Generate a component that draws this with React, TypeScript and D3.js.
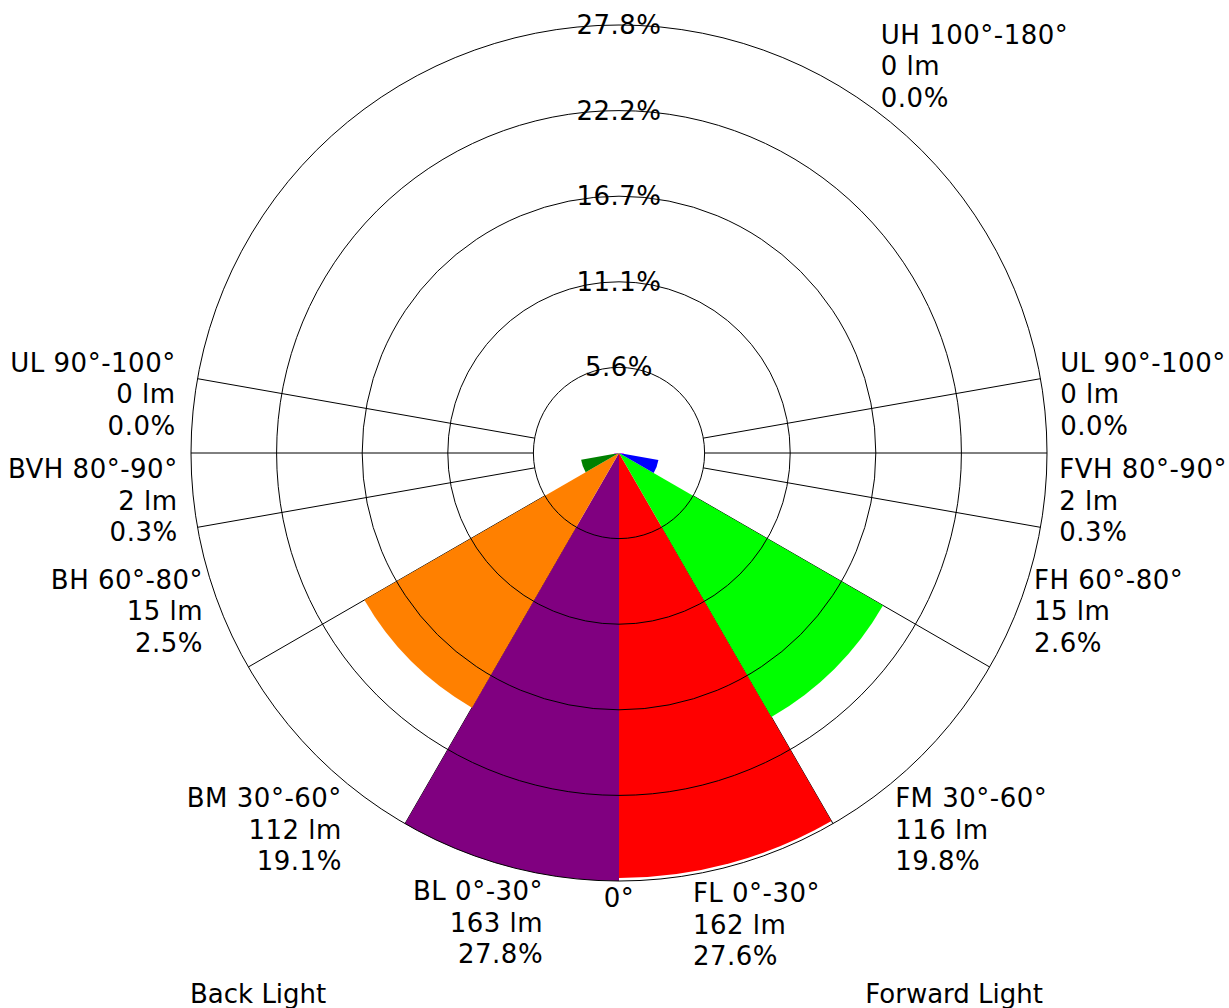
import React from "react";
import * as d3 from "d3";

// Forward side zones (right half)
const forwardNames = ["FL", "FM", "FH", "FVH", "UL", "UH"];
const forwardFrom = [0, 30, 60, 80, 90, 100];
const forwardTo = [30, 60, 80, 90, 100, 180];
const forwardLumens = [162, 116, 15, 2, 0, 0];
const forwardPercent = [27.6, 19.8, 2.6, 0.3, 0.0, 0.0];
const forwardColors = ["#ff0000", "#00ff00", "#0000ff", "#ff00ff", "#ffff00", "#00ffff"];

// Back side zones (left half)
const backNames = ["BL", "BM", "BH", "BVH", "UL"];
const backFrom = [0, 30, 60, 80, 90];
const backTo = [30, 60, 80, 90, 100];
const backLumens = [163, 112, 15, 2, 0];
const backPercent = [27.8, 19.1, 2.5, 0.3, 0.0];
const backColors = ["#800080", "#ff8000", "#008000", "#ff00ff", "#ffff00"];

const spokeAngles = [30, 60, 80, 90, 100];
const ringCount = 5;

// label nudges from the mid-angle point just outside the rim
const forwardNudge = [[-40, 24], [-35, 43], [1.5, -14.5], [2, -13], [3, -43], [-21, -72]];
const backNudge = [[38, 22], [34, 43], [-2.5, -14.5], [-3, -13], [-5, -43]];

const width = 1229;
const height = 1008;
const cx = 619;
const cy = 453;
const R = 428;
const font = "'DejaVu Sans', Verdana, sans-serif";
const fontSize = 26;
const lineH = 31.5;

const App = () => {
  const maxPct = d3.max([...forwardPercent, ...backPercent]) as number;
  const r = d3.scaleLinear().domain([0, maxPct]).range([0, R]);
  const rad = (deg) => (deg * Math.PI) / 180;

  // angle measured from straight down, side = +1 forward (right), -1 back (left)
  const toXY = (deg, radius, side) => [
    cx + side * radius * Math.sin(rad(deg)),
    cy + radius * Math.cos(rad(deg)),
  ];
  const d3Angle = (deg, side) => Math.PI - side * rad(deg);

  const arc = d3.arc();

  const sides = [
    { side: 1, names: forwardNames, from: forwardFrom, to: forwardTo, lm: forwardLumens, pct: forwardPercent, colors: forwardColors, nudge: forwardNudge },
    { side: -1, names: backNames, from: backFrom, to: backTo, lm: backLumens, pct: backPercent, colors: backColors, nudge: backNudge },
  ];

  const rings = d3.range(1, ringCount + 1).map((i) => (maxPct * i) / ringCount);

  return (
    <svg
      width={width}
      height={height}
      style={{ position: "absolute", left: 0, top: 0, background: "#fff" }}
      fontFamily={font}
      fontSize={fontSize}
      letterSpacing={0.5}
    >
      {/* spokes */}
      {sides.map((s) =>
        spokeAngles.map((a) => {
          const [x1, y1] = toXY(a, r(rings[0]), s.side);
          const [x2, y2] = toXY(a, R, s.side);
          return <line key={`sp${s.side}${a}`} x1={x1} y1={y1} x2={x2} y2={y2} stroke="#000" strokeWidth={1} />;
        })
      )}

      {/* wedges */}
      <g transform={`translate(${cx},${cy})`}>
        {sides.map((s) =>
          s.names.map((n, i) => (
            <path
              key={`w${s.side}${n}`}
              fill={s.colors[i]}
              d={arc({
                innerRadius: 0,
                outerRadius: r(s.pct[i]),
                startAngle: d3Angle(s.from[i], s.side),
                endAngle: d3Angle(s.to[i], s.side),
              })}
            />
          ))
        )}
      </g>

      {/* rings */}
      {rings.map((v) => (
        <circle key={`c${v}`} cx={cx} cy={cy} r={r(v)} fill="none" stroke="#000" strokeWidth={1} />
      ))}
      {rings.map((v) => (
        <text key={`t${v}`} x={cx} y={cy - r(v) + 9} textAnchor="middle">
          {`${v.toFixed(1)}%`}
        </text>
      ))}

      <text x={cx} y={cy + R + 26} textAnchor="middle">0°</text>

      {/* zone labels */}
      {sides.map((s) =>
        s.names.map((n, i) => {
          const mid = (s.from[i] + s.to[i]) / 2;
          const [px, py] = toXY(mid, R + 12, s.side);
          const x = px + s.nudge[i][0];
          const y = py + s.nudge[i][1];
          const lines = [`${n} ${s.from[i]}°-${s.to[i]}°`, `${s.lm[i]} lm`, `${s.pct[i].toFixed(1)}%`];
          return (
            <text key={`l${s.side}${n}`} x={x} y={y} textAnchor={s.side > 0 ? "start" : "end"}>
              {lines.map((t, k) => (
                <tspan key={k} x={x} y={y + k * lineH}>{t}</tspan>
              ))}
            </text>
          );
        })
      )}

      <text x={cx - R - 1} y={1003} textAnchor="start" letterSpacing={0}>Back Light</text>
      <text x={cx + R - 4} y={1003} textAnchor="end" letterSpacing={0}>Forward Light</text>
    </svg>
  );
};

export default App;
